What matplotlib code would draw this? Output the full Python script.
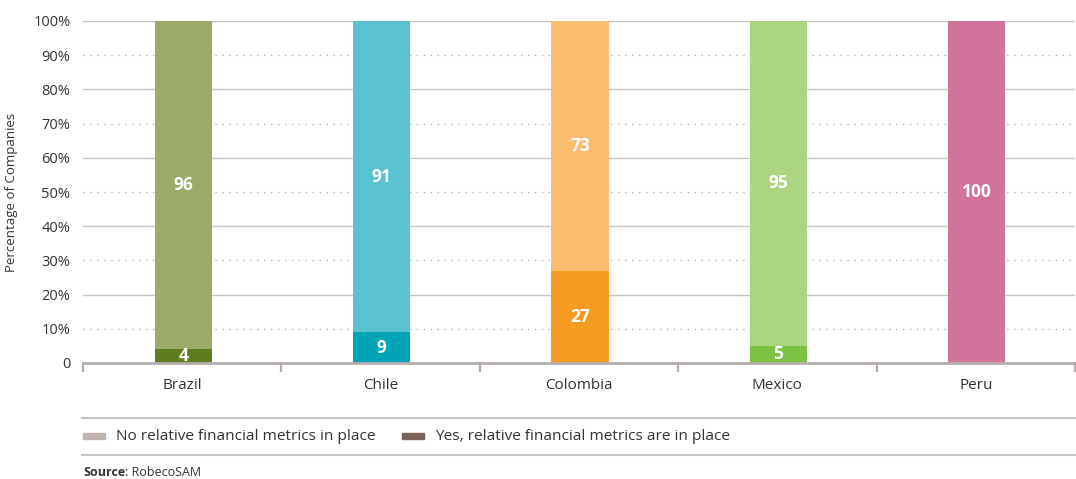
import matplotlib
matplotlib.use("Agg")
import matplotlib.pyplot as plt
import numpy as np
from matplotlib.lines import Line2D
from matplotlib.patches import Rectangle

plt.rcParams['font.family'] = ['Open Sans', 'DejaVu Sans']

countries = ['Brazil', 'Chile', 'Colombia', 'Mexico', 'Peru']
yes_vals = [4, 9, 27, 5, 0]
no_vals = [96, 91, 73, 95, 100]
yes_colors = ['#5f7d1e', '#00a4b6', '#f49b20', '#7dc142', '#d1739b']
no_colors = ['#9aab6a', '#5bc2d1', '#fbbd6f', '#acd582', '#d1739b']
legend_labels = ['No relative financial metrics in place',
                 'Yes, relative financial metrics are in place']
legend_colors = ['#bfb4b0', '#7a645a']

W, H = 1076, 479
fig = plt.figure(figsize=(W / 100, H / 100), dpi=100)
ax = fig.add_axes([83 / W, 1 - 363 / H, 992 / W, 342 / H])

x = np.arange(len(countries)) + 0.005
bw = 0.288
ax.bar(x, yes_vals, width=bw, color=yes_colors, zorder=3)
ax.bar(x, no_vals, width=bw, bottom=yes_vals, color=no_colors, zorder=3)

for i in range(len(countries)):
    if yes_vals[i] > 0:
        ax.text(x[i], yes_vals[i] / 2, str(yes_vals[i]), ha='center', va='center',
                color='white', fontsize=12.5, fontweight='bold', zorder=4)
    ax.text(x[i], yes_vals[i] + no_vals[i] / 2, str(no_vals[i]), ha='center',
            va='center', color='white', fontsize=12.5, fontweight='bold', zorder=4)

ax.set_xlim(-0.5, len(countries) - 0.5)
ax.set_ylim(0, 100)

# gridlines: solid at even tens, dotted at odd tens
for v in range(10, 101, 10):
    if v % 20 == 0:
        ax.axhline(v, color='#c9c3c3', lw=1.0, zorder=1)
    else:
        ax.axhline(v, color='#b5b0b0', lw=1.0, ls=(0, (1, 4)), zorder=1)

ax.set_yticks(range(0, 101, 10))
ax.set_yticklabels(['0'] + ['%d%%' % v for v in range(10, 101, 10)])
ax.tick_params(axis='y', length=0, labelsize=10.5, pad=9, colors='#333333')
ax.set_ylabel('Percentage of Companies', fontsize=9.5, color='#333333')
ax.yaxis.set_label_coords(-0.066, 0.5)

ax.set_xticks(np.arange(len(countries)))
ax.set_xticklabels(countries)
ax.tick_params(axis='x', length=0, labelsize=11, pad=11, colors='#333333')
for b in np.arange(-0.5, len(countries), 1):
    ax.plot([b, b], [0, -2.4], color='#b5aeae', lw=1.6, clip_on=False, zorder=2)

for s in ['top', 'right', 'left']:
    ax.spines[s].set_visible(False)
ax.spines['bottom'].set_color('#b5aeae')
ax.spines['bottom'].set_linewidth(2)
ax.spines['bottom'].set_zorder(4)

# legend block
fig.add_artist(Line2D([82 / W, 1.0], [1 - 418 / H] * 2, color='#c9c3c3', lw=1.5))
fig.add_artist(Line2D([82 / W, 1.0], [1 - 455 / H] * 2, color='#c9c3c3', lw=1.5))
lx = [83, 402]
for i in range(2):
    fig.add_artist(Rectangle((lx[i] / W, 1 - 439 / H), 22 / W, 6 / H,
                             color=legend_colors[i]))
    fig.text((lx[i] + 33) / W, 1 - 436 / H, legend_labels[i], fontsize=11.1,
             va='center', color='#333333')

fig.text(83 / W, 1 - 472 / H, 'Source', fontsize=9, fontweight='bold',
         va='center', color='#333333')
fig.text(125 / W, 1 - 472 / H, ': RobecoSAM', fontsize=9, va='center',
         color='#333333')

fig.savefig('out.png', dpi=100)
